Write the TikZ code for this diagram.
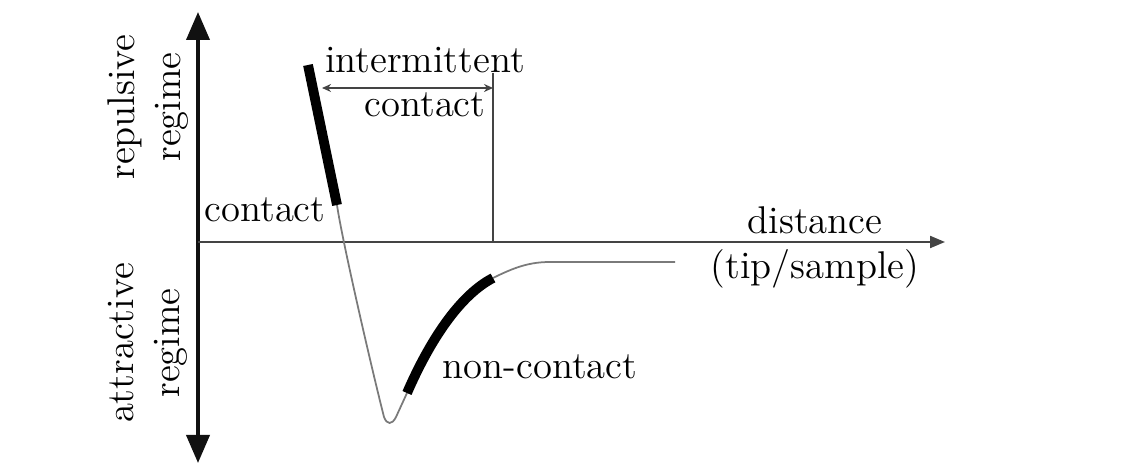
\documentclass[tikz,border=0pt]{standalone}
\usetikzlibrary{calc, arrows.meta}

\begin{document}
\begin{tikzpicture}[scale=1]
    % Define colours
    \definecolor{axisColour}{HTML}{111111}
    \definecolor{curveColour}{HTML}{7A7A7A}
    \definecolor{lineColour}{HTML}{444444}

    \tikzset{
        lbl/.style={inner sep=1pt, font=\fontsize{11}{13}\selectfont},
        regimelbl/.style={lbl, rotate=90, align=center},
        thinCurve/.style={curveColour, line width=0.5pt},
        thickCurve/.style={black, line width=2.8pt}
    }

    % Fix the picture size
    \useasboundingbox (0,0) rectangle (11.38,4.65);

    % Define the origin and axis ends
    \coordinate (origin) at (1.98,2.23);
    \coordinate (yTop) at (1.98,4.53);
    \coordinate (yBottom) at (1.98,0.02);
    \coordinate (xEnd) at (9.45,2.23);

    % Draw axes
    \draw[axisColour, line width=1.1pt, {Triangle[length=0.28cm, width=0.23cm]}-{Triangle[length=0.28cm, width=0.23cm]}] (yBottom) -- (yTop);
    \draw[lineColour, line width=0.6pt, -{Triangle[length=0.15cm, width=0.12cm]}] (origin) -- (xEnd);

    % Define coordinates on the force curve
    \coordinate (A) at (3.08,4.00);
    \coordinate (B) at (3.37,2.60);
    \coordinate (M) at (3.90,0.42);
    \coordinate (C) at (4.07,0.72);
    \coordinate (D) at (4.93,1.87);
    \coordinate (E) at (5.50,2.03);
    \coordinate (F) at (6.75,2.03);

    % Draw the thin curve
    \draw[thinCurve] (B) .. controls (3.42,2.25) and (3.72,0.95) .. (3.84,0.48) .. controls (3.87,0.40) and (3.92,0.40) .. (3.96,0.48) -- (C);
    \draw[thinCurve] (D) .. controls (5.15,1.98) and (5.30,2.03) .. (E) -- (F);

    % Draw the thick parts (contact and non-contact)
    \draw[thickCurve] (A) -- (B);
    \draw[thickCurve] (C) .. controls (4.30,1.25) and (4.60,1.70) .. (D);

    % Intermittent contact range
    \coordinate (G) at (4.93,3.92);
    \coordinate (H) at (4.93,2.23);
    \coordinate (I) at (3.22,3.77);
    \coordinate (J) at (4.93,3.77);
    \draw[lineColour, line width=0.6pt] (G) -- (H);
    \draw[lineColour, line width=0.5pt, {Stealth[length=0.09cm, width=0.08cm]}-{Stealth[length=0.09cm, width=0.08cm]}] (I) -- (J);

    % Labels
    \node[regimelbl] (repulsive) at (1.48,3.58) {repulsive\\regime};
    \node[regimelbl] (attractive) at (1.48,1.22) {attractive\\regime};
    \node[lbl] (contact) at (2.65,2.55) {contact};
    \node[lbl] (intermittent) at (4.25,4.05) {intermittent};
    \node[lbl] (intContact) at (4.25,3.60) {contact};
    \node[lbl] (distance) at (8.15,2.45) {distance};
    \node[lbl] (tipSample) at (8.15,1.96) {(tip/sample)};
    \node[lbl] (noncontact) at (5.40,0.98) {non-contact};

\end{tikzpicture}
\end{document}
